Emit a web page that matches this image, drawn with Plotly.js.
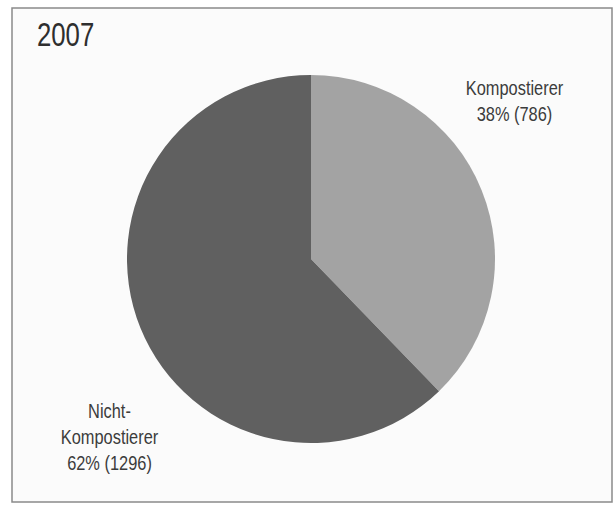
<!DOCTYPE html>
<html>
<head>
<meta charset="utf-8">
<script src="https://cdn.plot.ly/plotly-3.0.1.min.js"></script>
<style>
html,body{margin:0;padding:0;background:#ffffff;}
#chart{width:615px;height:506px;}
</style>
</head>
<body>
<div id="chart"></div>
<script>
const chartTitle = "2007";
const categories = ["Kompostierer", "Nicht-Kompostierer"];
const displayLabels = ["Kompostierer", "Nicht-<br>Kompostierer"];
const values = [786, 1296];
const sliceColors = ["#a3a3a3", "#606060"];

const total = values.reduce((a, b) => a + b, 0);
const pcts = values.map(v => Math.round(v / total * 100));

const labelPos = [
  {x: 514 / 615, y: 1 - 101 / 506},
  {x: 109 / 615, y: 1 - 437 / 506}
];

const font = "'Liberation Sans', Arial, sans-serif";

const annotations = categories.map((c, i) => ({
  xref: "paper", yref: "paper",
  x: labelPos[i].x, y: labelPos[i].y,
  xanchor: "center", yanchor: "middle",
  align: "center",
  showarrow: false,
  text: displayLabels[i] + "<br>" + pcts[i] + "% (" + values[i] + ")",
  font: {family: font, size: 20, color: "#3c3c3c"}
}));

annotations.push({
  xref: "paper", yref: "paper",
  x: 35 / 615, y: 1 - 34 / 506,
  xanchor: "left", yanchor: "middle",
  showarrow: false,
  text: chartTitle,
  font: {family: font, size: 33, color: "#2e2e2e"}
});

// horizontal condensing to mimic a narrow typeface
const squeeze = [0.82, 0.82, 0.78];

const data = [{
  type: "pie",
  labels: categories,
  values: values,
  sort: false,
  direction: "clockwise",
  rotation: 0,
  textinfo: "none",
  hoverinfo: "label+value+percent",
  marker: {colors: sliceColors, line: {width: 0}},
  domain: {x: [127 / 615, 495 / 615], y: [1 - 443 / 506, 1 - 75 / 506]},
  showlegend: false
}];

const layout = {
  width: 615, height: 506,
  margin: {l: 0, r: 0, t: 0, b: 0},
  paper_bgcolor: "#ffffff",
  showlegend: false,
  annotations: annotations,
  shapes: [{
    type: "rect", xref: "paper", yref: "paper", layer: "below",
    x0: 12 / 615, x1: 612 / 615, y0: 1 - 502 / 506, y1: 1 - 8 / 506,
    line: {color: "#8a8a8a", width: 1.5},
    fillcolor: "#fbfbfb"
  }]
};

const gd = document.getElementById("chart");
Plotly.newPlot(gd, data, layout, {displayModeBar: false, staticPlot: true}).then(() => {
  gd.querySelectorAll("g.annotation").forEach((g, i) => {
    const t = g.querySelector("text.annotation-text");
    if (!t) return;
    const bb = t.getBBox();
    const cx = annotations[i].xanchor === "left" ? bb.x : bb.x + bb.width / 2;
    const s = squeeze[i];
    t.setAttribute("transform", "translate(" + cx + ",0) scale(" + s + ",1) translate(" + (-cx) + ",0)");
  });
});
</script>
</body>
</html>
